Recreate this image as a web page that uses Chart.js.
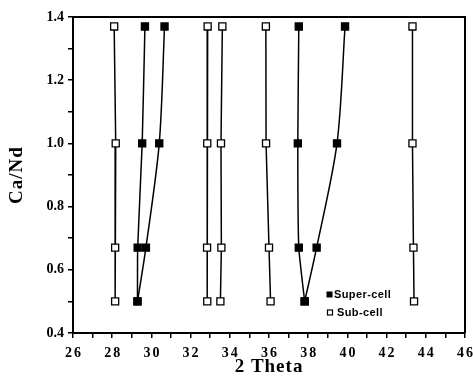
<!DOCTYPE html>
<html>
<head>
<meta charset="utf-8">
<script src="https://cdn.jsdelivr.net/npm/chart.js@4"></script>
<style>
  html, body { margin: 0; padding: 0; background: #fff; }
  #wrap { width: 473px; height: 380px; }
</style>
</head>
<body>
<div id="wrap"><canvas id="chart"></canvas></div>
<script>
// Ca/Nd ratio for each row of points (top to bottom)
const caNd = [1.37, 1.0, 0.67, 0.5];

// Super-cell peaks (2 Theta), one array per line
const superA = [29.67, 29.53, 29.30, 29.29];
const superB = [30.67, 30.40, 29.72, 29.29];
const superC = [37.52, 37.47, 37.52, 37.82];
const superD = [39.88, 39.47, 38.43, 37.82];

// Sub-cell peaks (2 Theta)
const sub28 = [28.10, 28.18, 28.15, 28.15];
const sub32 = [32.87, 32.85, 32.84, 32.85];
const sub33 = [33.62, 33.55, 33.57, 33.52];
const sub36 = [35.84, 35.85, 36.00, 36.08];
const sub43 = [43.32, 43.32, 43.37, 43.40];

const xTickLabels = [26, 28, 30, 32, 34, 36, 38, 40, 42, 44, 46];
const yTickLabels = [0.4, 0.6, 0.8, 1.0, 1.2, 1.4];

const serif = "'Liberation Serif', 'Times New Roman', serif";

function series(label, xs, filled, tension) {
  return {
    label,
    data: xs.map((x, i) => ({ x, y: caNd[i] })),
    showLine: true,
    tension,
    borderColor: '#000',
    borderWidth: 1.5,
    pointStyle: 'rect',
    pointRadius: 5,
    pointHoverRadius: 5,
    pointBackgroundColor: filled ? '#000' : '#fff',
    pointBorderColor: '#000',
    pointBorderWidth: 1.3,
  };
}

// frame, x tick labels, axis titles and legend
const decor = {
  id: 'decor',
  beforeDatasetsDraw(chart) {
    const { ctx, chartArea: a } = chart;
    ctx.save();
    ctx.strokeStyle = '#000';
    ctx.lineWidth = 2;
    ctx.beginPath();
    ctx.moveTo(a.left - 1, a.top);
    ctx.lineTo(a.right, a.top);
    ctx.lineTo(a.right, a.bottom);
    ctx.stroke();
    ctx.restore();
  },
  afterDraw(chart) {
    const { ctx, chartArea: a, scales } = chart;
    ctx.save();
    ctx.fillStyle = '#000';

    // x tick labels (slightly spaced out)
    ctx.font = `bold 14px ${serif}`;
    ctx.textAlign = 'center';
    ctx.textBaseline = 'alphabetic';
    ctx.letterSpacing = '2px';
    xTickLabels.forEach((v) => {
      ctx.fillText(String(v), scales.x.getPixelForValue(v) + 1, a.bottom + 24);
    });

    // x title
    ctx.font = `bold 19px ${serif}`;
    ctx.letterSpacing = '1px';
    ctx.fillText('2 Theta', (a.left + a.right) / 2, a.bottom + 39);

    // y title
    ctx.save();
    ctx.translate(22, (a.top + a.bottom) / 2);
    ctx.rotate(-Math.PI / 2);
    ctx.fillText('Ca/Nd', 0, 0);
    ctx.restore();

    // legend
    ctx.letterSpacing = '0.4px';
    ctx.font = "bold 11px 'Liberation Sans', Arial, sans-serif";
    ctx.textAlign = 'left';
    ctx.textBaseline = 'middle';
    ctx.fillRect(326.5, 291.5, 6, 6);
    ctx.fillText('Super-cell', 334, 295);
    ctx.fillStyle = '#fff';
    ctx.strokeStyle = '#000';
    ctx.lineWidth = 1.2;
    ctx.fillRect(327.5, 310, 5, 5);
    ctx.strokeRect(327.5, 310, 5, 5);
    ctx.fillStyle = '#000';
    ctx.fillText('Sub-cell', 337, 313);
    ctx.restore();
  },
};

new Chart(document.getElementById('chart'), {
  type: 'scatter',
  data: {
    datasets: [
      series('Sub-cell', sub28, false, 0),
      series('Sub-cell', sub32, false, 0),
      series('Sub-cell', sub33, false, 0),
      series('Sub-cell', sub36, false, 0),
      series('Sub-cell', sub43, false, 0),
      series('Super-cell', superA, true, 0.15),
      series('Super-cell', superB, true, 0.3),
      series('Super-cell', superC, true, 0.15),
      series('Super-cell', superD, true, 0.3),
    ],
  },
  options: {
    responsive: true,
    maintainAspectRatio: false,
    animation: false,
    layout: { padding: { top: 17, right: 8, left: 0, bottom: 0 } },
    plugins: {
      legend: { display: false },
      tooltip: { enabled: false },
    },
    scales: {
      x: {
        type: 'linear',
        min: 26,
        max: 46,
        afterFit: (s) => { s.height = 47; },
        ticks: {
          stepSize: 1,
          autoSkip: false,
          maxRotation: 0,
          callback: () => '',
        },
        grid: {
          drawOnChartArea: false,
          drawTicks: true,
          tickLength: 5,
          color: '#000',
          lineWidth: 1.5,
        },
        border: { display: true, color: '#000', width: 2 },
      },
      y: {
        type: 'linear',
        min: 0.4,
        max: 1.4,
        afterFit: (s) => { s.width = 73; },
        ticks: {
          stepSize: 0.1,
          autoSkip: false,
          padding: 4,
          color: '#000',
          font: { family: serif, size: 14, weight: 'bold' },
          callback: (v) => {
            const k = Math.round(v * 10);
            return yTickLabels.some((t) => Math.round(t * 10) === k) ? (k / 10).toFixed(1) : '';
          },
        },
        grid: {
          drawOnChartArea: false,
          drawTicks: true,
          tickLength: 5,
          color: '#000',
          lineWidth: 1.5,
        },
        border: { display: true, color: '#000', width: 2 },
      },
    },
  },
  plugins: [decor],
});
</script>
</body>
</html>
